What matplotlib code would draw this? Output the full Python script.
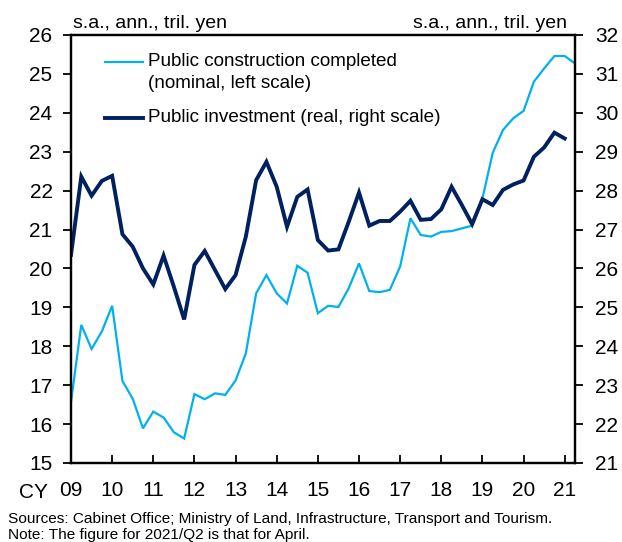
import matplotlib
matplotlib.use("Agg")
import matplotlib.pyplot as plt
from matplotlib.lines import Line2D

plt.rcParams['font.family'] = ['Liberation Sans', 'DejaVu Sans']

years = ["09", "10", "11", "12", "13", "14", "15", "16", "17", "18", "19", "20", "21"]

# Quarterly, 2009/Q1 - 2021/Q2 (left scale, nominal)
construction = [16.57, 18.55, 17.93, 18.38, 19.04, 17.11, 16.65, 15.89, 16.32, 16.17,
                15.79, 15.63, 16.77, 16.64, 16.79, 16.75, 17.12, 17.82, 19.36, 19.83,
                19.36, 19.10, 20.07, 19.89, 18.85, 19.04, 19.01, 19.49, 20.13, 19.42,
                19.39, 19.45, 20.05, 21.29, 20.86, 20.82, 20.94, 20.96, 21.03, 21.10,
                21.80, 22.97, 23.56, 23.86, 24.05, 24.80, 25.14, 25.46, 25.46, 25.27]

# Quarterly, 2009/Q1 - 2021/Q1 (right scale, real)
investment = [26.35, 28.36, 27.87, 28.25, 28.38, 26.88, 26.56, 26.00, 25.59, 26.33,
              25.53, 24.69, 26.09, 26.45, 25.96, 25.47, 25.83, 26.82, 28.27, 28.74,
              28.10, 27.07, 27.84, 28.03, 26.73, 26.46, 26.49, 27.20, 27.95, 27.10,
              27.22, 27.22, 27.46, 27.74, 27.25, 27.27, 27.52, 28.10, 27.63, 27.14,
              27.78, 27.63, 28.02, 28.16, 28.26, 28.87, 29.11, 29.49, 29.34]

LIGHT = "#00B0F0"
DARK = "#002060"

fig = plt.figure(figsize=(6.22, 5.42), dpi=100)
ax = fig.add_axes([71/622, 1-463/542, 504/622, 428/542])
ax2 = ax.twinx()

ax.plot(range(len(construction)), construction, color=LIGHT, lw=1.6, solid_joinstyle='miter')
ax2.plot(range(len(investment)), investment, color=DARK, lw=2.8, solid_joinstyle='miter')

ax.set_xlim(0, 49)
ax.set_ylim(15, 26)
ax2.set_ylim(21, 32)
ax.set_yticks(range(15, 27))
ax2.set_yticks(range(21, 33))
ax.set_xticks(range(0, 49, 4))
ax.set_xticklabels(years)

for a in (ax, ax2):
    for s in a.spines.values():
        s.set_linewidth(1.6)
        s.set_color("black")

TFS = 15
ax.tick_params(axis='y', direction='out', length=5.8, width=1.3, labelsize=TFS, pad=7.5)
ax2.tick_params(axis='y', direction='out', length=5.8, width=1.3, labelsize=TFS, pad=8.5)
ax.tick_params(axis='x', direction='in', length=6, width=1.3, labelsize=TFS, pad=13)

fig.text(33.5/622, 1-492/542, "CY", fontsize=TFS, ha='center', va='center')

fig.text(73/622, 1-28/542, "s.a., ann., tril. yen", fontsize=14, ha='left', va='baseline')
fig.text(567/622, 1-28/542, "s.a., ann., tril. yen", fontsize=14, ha='right', va='baseline')

# legend (manual)
LFS = 13.6
def ypx(y):
    return (463 - y) / 428
def xpx(x):
    return (x - 71) / 504
ax.add_line(Line2D([xpx(105), xpx(143)], [ypx(62), ypx(62)], transform=ax.transAxes, color=LIGHT, lw=1.6))
ax.text(xpx(148), ypx(62), "Public construction completed", transform=ax.transAxes,
        fontsize=LFS, ha='left', va='center')
ax.text(xpx(148), ypx(83), "(nominal, left scale)", transform=ax.transAxes,
        fontsize=LFS, ha='left', va='center')
ax.add_line(Line2D([xpx(105), xpx(143)], [ypx(118), ypx(118)], transform=ax.transAxes, color=DARK, lw=2.8))
ax.text(xpx(148), ypx(118), "Public investment (real, right scale)", transform=ax.transAxes,
        fontsize=LFS, ha='left', va='center')

fig.text(8/622, 1-519/542, "Sources: Cabinet Office; Ministry of Land, Infrastructure, Transport and Tourism.",
         fontsize=11.1, ha='left', va='center')
fig.text(8/622, 1-535/542, "Note: The figure for 2021/Q2 is that for April.",
         fontsize=11.1, ha='left', va='center')

fig.savefig("out.png", dpi=100)
